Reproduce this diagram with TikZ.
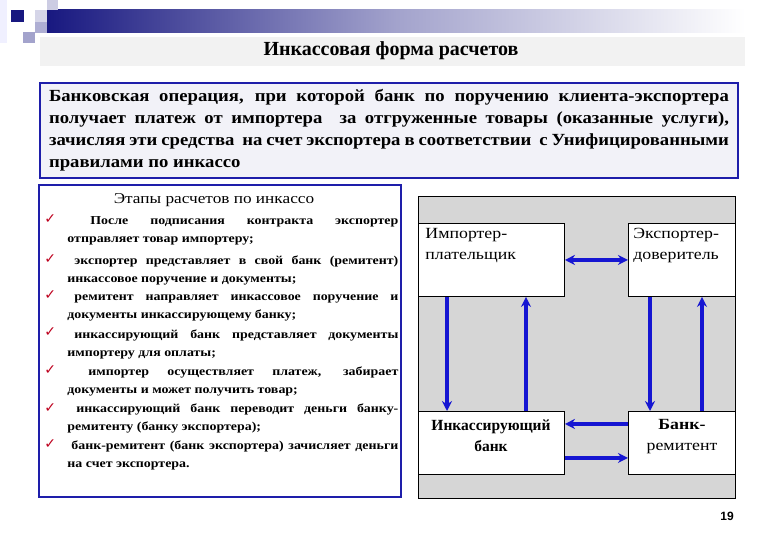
\documentclass[tikz,border=0pt]{standalone}
\usepackage{fontspec}
\setmainfont{Liberation Serif}
\setsansfont{Liberation Sans}
\newfontfamily\symfont{DejaVu Sans}
\newfontfamily\widefont[FakeStretch=1.15]{Liberation Serif}
\newfontfamily\broadfont[FakeStretch=1.1]{Liberation Serif}
\usetikzlibrary{arrows.meta}

\definecolor{navyband}{RGB}{24,24,128}
\definecolor{frameblue}{RGB}{30,30,170}
\definecolor{arrowblue}{RGB}{22,22,210}
\definecolor{panelgray}{RGB}{214,214,214}
\definecolor{deffill}{RGB}{242,242,248}
\definecolor{checkred}{RGB}{190,0,30}

\tikzset{
  arr/.style={-{Stealth[length=10pt,width=10pt]}, line width=3.4pt, arrowblue},
  dblarr/.style={{Stealth[length=10pt,width=10pt]}-{Stealth[length=10pt,width=10pt]}, line width=3.4pt, arrowblue},
  partybox/.style={draw=black, fill=white, line width=0.9pt, inner sep=0pt, anchor=north west},
  partytxt/.style={font=\widefont\fontsize{15.5}{21}\selectfont, inner sep=0pt},
  stepitem/.style={font=\widefont\bfseries\fontsize{12.1}{18}\selectfont, text width=331pt, align=justify, inner sep=0pt, anchor=base west},
  tick/.style={font=\symfont\fontsize{14}{14}\selectfont, text=checkred, inner sep=0pt, anchor=base west}
}

\begin{document}
\begin{tikzpicture}[x=1pt, y=-1pt, line width=0.8pt]
  \useasboundingbox (0,0) rectangle (780,540);
  % angle decoration
  \fill[blue!6] (0,0) rectangle (7,43);
  \shade[left color=navyband, right color=white, middle color=navyband!40] (47,10) rectangle (745,33);
  \fill[navyband] (11,10) rectangle (24,22);
  \fill[navyband!18] (35,10) rectangle (47,22);
  \fill[navyband!22] (47,0) rectangle (58,10);
  \fill[navyband!35] (35,22) rectangle (47,33);
  \fill[navyband!40] (23,32) rectangle (35,43);
  % title
  \fill[gray!10] (40,37) rectangle (745,66);
  \node[font=\bfseries\fontsize{20}{22}\selectfont] (title) at (391,51) {Инкассовая форма расчетов};
  % definition
  \node[draw=frameblue, fill=deffill, line width=1.8pt, minimum width=698pt, minimum height=95pt,
        text width=680pt, align=justify, inner sep=0pt,
        font=\broadfont\bfseries\fontsize{17}{22}\selectfont] (defn) at (389,130.5)
    {Банковская операция, при которой банк по поручению клиента-экспортера\linebreak
     получает платеж от импортера \ за отгруженные товары (оказанные услуги),\linebreak
     зачисляя эти средства \ на счет экспортера в соответствии \ с Унифицированными\linebreak
     правилами по инкассо};
  % stages
  \draw[frameblue, fill=white, line width=1.6pt] (39,185) rectangle (401,497);
  \node[font=\widefont\fontsize{15}{17}\selectfont] (stagehead) at (214,200) {Этапы расчетов по инкассо};
  \node[tick] (t1) at (44,224) {✓};
  \node[stepitem] (s1) at (67,225) {\hspace*{23pt}После подписания контракта экспортер\linebreak отправляет товар импортеру;};
  \node[tick] (t2) at (44,264) {✓};
  \node[stepitem] (s2) at (67,265) {\hspace*{7pt}экспортер представляет в свой банк (ремитент)\linebreak инкассовое поручение и документы;};
  \node[tick] (t3) at (44,300) {✓};
  \node[stepitem] (s3) at (67,301) {\hspace*{7pt}ремитент направляет инкассовое поручение и\linebreak документы инкассирующему банку;};
  \node[tick] (t4) at (44,337) {✓};
  \node[stepitem] (s4) at (67,338) {\hspace*{7pt}инкассирующий банк представляет документы\linebreak импортеру для оплаты;};
  \node[tick] (t5) at (44,374) {✓};
  \node[stepitem] (s5) at (67,375) {\hspace*{21pt}импортер осуществляет платеж, забирает\linebreak документы и может получить товар;};
  \node[tick] (t6) at (44,412) {✓};
  \node[stepitem] (s6) at (67,413) {\hspace*{9pt}инкассирующий банк переводит деньги банку-\linebreak ремитенту (банку экспортера);};
  \node[tick] (t7) at (44,448) {✓};
  \node[stepitem] (s7) at (67,449) {\hspace*{4pt}банк-ремитент (банк экспортера) зачисляет деньги\linebreak на счет экспортера.};
  % scheme
  \draw[fill=panelgray, line width=0.9pt] (418,196) rectangle (735,498);
  \node[partybox, minimum width=146pt, minimum height=73pt] (imp) at (418,223) {};
  \node[partybox, minimum width=107pt, minimum height=73pt] (exp) at (628,223) {};
  \node[partybox, minimum width=146pt, minimum height=63pt] (ink) at (418,411) {};
  \node[partybox, minimum width=107pt, minimum height=63pt] (rem) at (628,411) {};
  \node[partytxt, anchor=north west, align=left] (imptxt) at (425,228) {Импортер-\\плательщик};
  \node[partytxt, anchor=north west, align=left] (exptxt) at (633,228) {Экспортер-\\доверитель};
  \node[partytxt, font=\bfseries\fontsize{15.5}{21}\selectfont, anchor=north, align=center] (inktxt) at (491,419) {Инкассирующий\\ банк};
  \node[partytxt, anchor=north, align=center] (remtxt) at (682,419) {\bfseries Банк-\\ремитент};
  \draw[dblarr] (imp.east) -- (exp.west);
  \draw[arr] ([xshift=29pt]imp.south west) -- ([xshift=29pt]ink.north west);
  \draw[arr] ([xshift=108pt]ink.north west) -- ([xshift=108pt]imp.south west);
  \draw[arr] ([xshift=22pt]exp.south west) -- ([xshift=22pt]rem.north west);
  \draw[arr] ([xshift=74pt]rem.north west) -- ([xshift=74pt]exp.south west);
  \draw[arr] ([yshift=19pt]rem.west) -- ([yshift=19pt]ink.east);
  \draw[arr] ([yshift=-15pt]ink.east) -- ([yshift=-15pt]rem.west);
  \node[font=\sffamily\bfseries\fontsize{12}{12}\selectfont] (pagenum) at (727,516) {19};
\end{tikzpicture}
\end{document}
